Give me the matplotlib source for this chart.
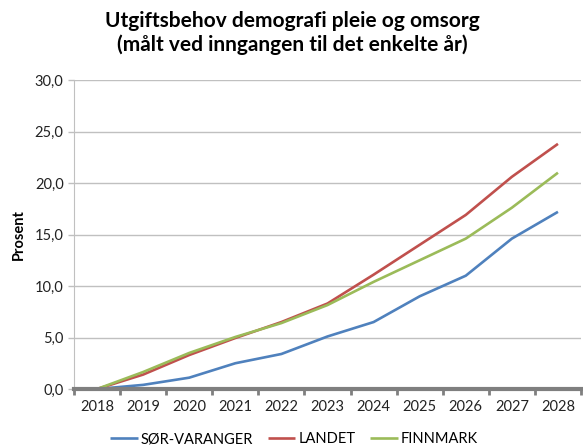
import matplotlib

matplotlib.use("Agg")
import matplotlib.pyplot as plt
from matplotlib.ticker import FuncFormatter, MultipleLocator

plt.rcParams["font.family"] = ["Lato", "DejaVu Sans"]

years = ["2018", "2019", "2020", "2021", "2022", "2023", "2024", "2025", "2026", "2027", "2028"]
sor_varanger = [0.0, 0.4, 1.1, 2.5, 3.4, 5.1, 6.5, 9.0, 11.0, 14.6, 17.2]
landet = [0.0, 1.4, 3.3, 4.95, 6.5, 8.3, 11.1, 14.0, 16.9, 20.6, 23.8]
finnmark = [0.0, 1.65, 3.5, 5.05, 6.4, 8.15, 10.4, 12.5, 14.6, 17.6, 21.0]

series = [
    ("SØR-VARANGER", sor_varanger, "#4F81BD"),
    ("LANDET", landet, "#C0504D"),
    ("FINNMARK", finnmark, "#9BBB59"),
]

fig = plt.figure(figsize=(5.83, 4.47), dpi=100)
ax = fig.add_axes([74 / 583, 58 / 447, 507 / 583, 309 / 447])

x = list(range(len(years)))
for name, values, color in series:
    ax.plot(x, values, color=color, linewidth=1.9, label=name, solid_capstyle="butt")

ax.set_xlim(-0.5, len(years) - 0.5)
ax.set_ylim(0, 30)
ax.yaxis.set_major_locator(MultipleLocator(5))
ax.yaxis.set_major_formatter(FuncFormatter(lambda v, _: f"{v:.1f}".replace(".", ",")))
ax.set_xticks(x)
ax.set_xticklabels(years)
ax.set_xticks([i - 0.5 for i in range(len(years) + 1)], minor=True)
ax.tick_params(axis="x", which="major", length=0, pad=8, labelsize=10.5, colors="#222222")
ax.tick_params(axis="x", which="minor", length=4, width=2, color="#7f7f7f")
ax.tick_params(axis="y", length=4, width=1, color="#bfbfbf", labelsize=10.5, labelcolor="#222222")

ax.grid(axis="y", color="#c0c0c0", linewidth=1)
ax.set_axisbelow(True)
for side in ("top", "right"):
    ax.spines[side].set_visible(False)
ax.spines["left"].set_color("#c0c0c0")
ax.spines["bottom"].set_color("#7f7f7f")
ax.spines["bottom"].set_linewidth(3)
ax.spines["bottom"].set_zorder(5)

ax.set_ylabel("Prosent", fontsize=10.5, fontweight="bold", labelpad=6)

fig.text(292 / 583, 1 - 33 / 447, "Utgiftsbehov demografi pleie og omsorg\n(målt ved inngangen til det enkelte år)",
         ha="center", va="center", fontsize=15, fontweight="bold", linespacing=1.25)

# reference crops the legend at the bottom edge; keep it just inside the canvas
fig.legend(loc="center", bbox_to_anchor=(294 / 583, 1 - 439 / 447), ncol=3, frameon=False,
           fontsize=10.5, handlelength=1.9, columnspacing=1.0, handletextpad=0.2)

fig.savefig("out.png", dpi=100)
